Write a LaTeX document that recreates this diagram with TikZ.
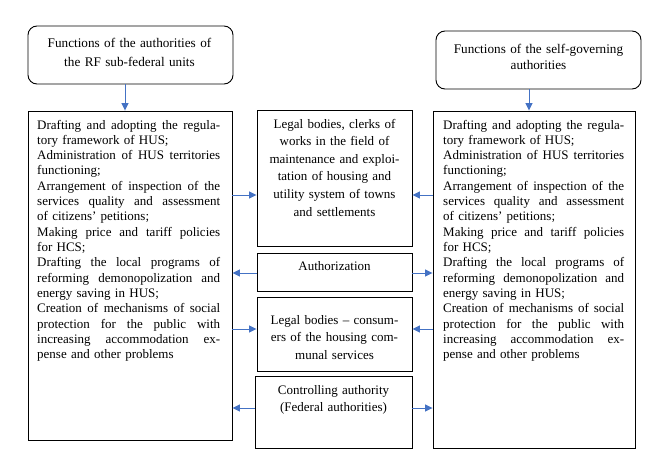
\documentclass[tikz,border=0pt]{standalone}
\usepackage{fontspec}
\setmainfont{Liberation Serif}
\usetikzlibrary{arrows.meta}
\newcommand\jline[2]{{\spaceskip=0.25em plus 2em minus 0.2em\makebox[#1][s]{#2}}}
\definecolor{arrblue}{HTML}{4472C4}
\begin{document}
\begin{tikzpicture}[x=1pt,y=-1pt,
  box/.style={draw=black,line width=0.9pt,inner sep=0pt},
  rbox/.style={box,rounded corners=9pt},
  bodytxt/.style={inner sep=0pt,align=left,font=\fontsize{13}{15.33}\selectfont},
  midtxt/.style={inner sep=0pt,align=center,font=\fontsize{13}{17.6}\selectfont},
  arr/.style={draw=arrblue,line width=0.9pt,-{Triangle[length=7.5pt,width=7pt]}}]
\useasboundingbox (0,0) rectangle (651,466);
% boxes
\node[rbox,minimum width=205pt,minimum height=58pt] (TL) at (130.5,55) {};
\node[rbox,minimum width=205pt,minimum height=58pt] (TR) at (538.5,60) {};
\node[box,minimum width=204pt,minimum height=329pt] (L) at (130,275.5) {};
\node[box,minimum width=202pt,minimum height=337pt] (R) at (534,279.5) {};
\node[box,minimum width=155pt,minimum height=136pt] (B1) at (334.5,178) {};
\node[box,minimum width=155pt,minimum height=38pt] (B2) at (334.5,272) {};
\node[box,minimum width=155pt,minimum height=74pt] (B3) at (334.5,334) {};
\node[box,minimum width=157pt,minimum height=72pt] (B4) at (333.5,412) {};
% texts
\node[midtxt,text width=200pt,anchor=base,font=\fontsize{13.2}{19}\selectfont] (TLt) at (129.5,47)
  {Functions of the authorities of\\the RF sub-federal units};
\node[midtxt,text width=200pt,anchor=base,font=\fontsize{13.2}{16}\selectfont] (TRt) at (538.5,53)
  {Functions of the self-governing\\authorities};
\node[bodytxt,text width=183pt,anchor=base west] (Lt) at (37,129) {%
\jline{183pt}{Drafting and adopting the regula-}\\
tory framework of HUS;\\
\jline{183pt}{Administration of HUS territories}\\
functioning;\\
\jline{183pt}{Arrangement of inspection of the}\\
\jline{183pt}{services quality and assessment}\\
of citizens’ petitions;\\
\jline{183pt}{Making price and tariff policies}\\
for HCS;\\
\jline{183pt}{Drafting the local programs of}\\
\jline{183pt}{reforming demonopolization and}\\
energy saving in HUS;\\
\jline{183pt}{Creation of mechanisms of social}\\
\jline{183pt}{protection for the public with}\\
\jline{183pt}{increasing accommodation ex-}\\
pense and other problems};
\node[bodytxt,text width=181pt,anchor=base west] (Rt) at (443,129) {%
\jline{181pt}{Drafting and adopting the regula-}\\
tory framework of HUS;\\
\jline{181pt}{Administration of HUS territories}\\
functioning;\\
\jline{181pt}{Arrangement of inspection of the}\\
\jline{181pt}{services quality and assessment}\\
of citizens’ petitions;\\
\jline{181pt}{Making price and tariff policies}\\
for HCS;\\
\jline{181pt}{Drafting the local programs of}\\
\jline{181pt}{reforming demonopolization and}\\
energy saving in HUS;\\
\jline{181pt}{Creation of mechanisms of social}\\
\jline{181pt}{protection for the public with}\\
\jline{181pt}{increasing accommodation ex-}\\
pense and other problems};
\node[midtxt,text width=150pt,anchor=base] (B1t) at (334.5,128)
  {Legal bodies, clerks of\\works in the field of\\maintenance and exploi-\\tation of housing and\\utility system of towns\\and settlements};
\node[midtxt,text width=150pt,anchor=base] (B2t) at (334.5,270) {Authorization};
\node[midtxt,text width=150pt,anchor=base] (B3t) at (334.5,324)
  {Legal bodies – consum-\\ers of the housing com-\\munal services};
\node[midtxt,text width=150pt,anchor=base] (B4t) at (333.5,394)
  {Controlling authority\\(Federal authorities)};
% connectors
\draw[arr] (TL.south -| 125,0) -- (L.north -| 125,0);
\draw[arr] (TR.south -| 529,0) -- (R.north -| 529,0);
\draw[arr] (L.east |- 0,195) -- (B1.west |- 0,195);
\draw[arr] (R.west |- 0,195) -- (B1.east |- 0,195);
\draw[arr] (B2.west |- 0,273) -- (L.east |- 0,273);
\draw[arr] (B2.east |- 0,273) -- (R.west |- 0,273);
\draw[arr] (L.east |- 0,329) -- (B3.west |- 0,329);
\draw[arr] (R.west |- 0,329) -- (B3.east |- 0,329);
\draw[arr] (B4.west |- 0,408) -- (L.east |- 0,408);
\draw[arr] (B4.east |- 0,408) -- (R.west |- 0,408);
\end{tikzpicture}
\end{document}
